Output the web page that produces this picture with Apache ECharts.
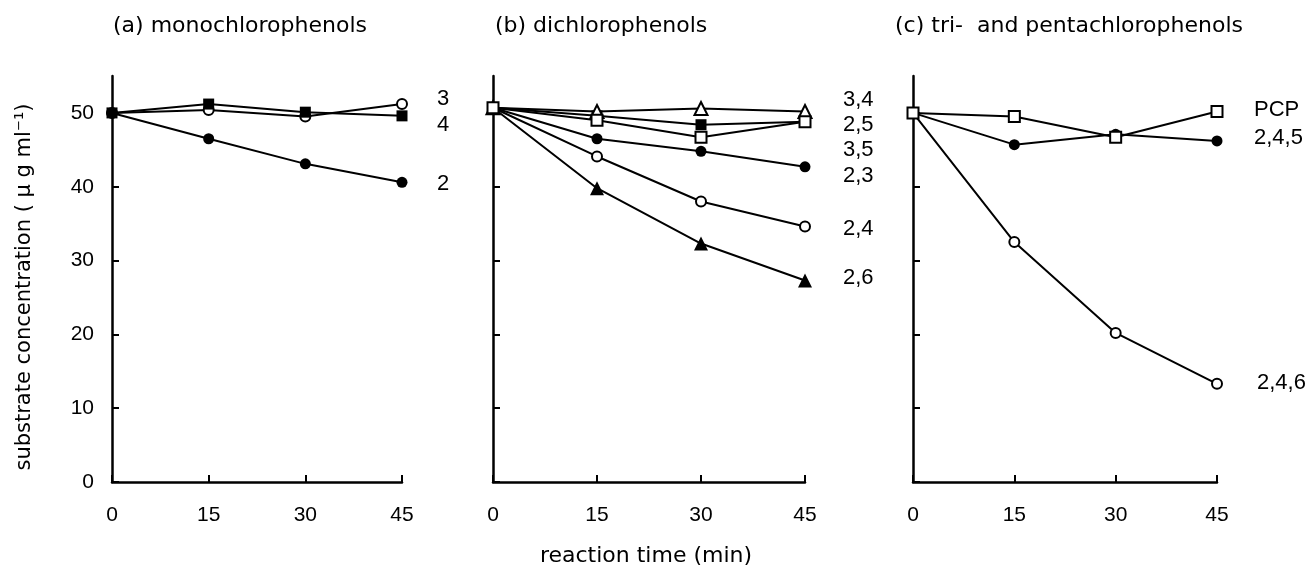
<!DOCTYPE html>
<html>
<head>
<meta charset="utf-8">
<script src="https://cdn.jsdelivr.net/npm/echarts@6/dist/echarts.min.js"></script>
<style>
html,body{margin:0;padding:0;background:#fff;}
#chart{width:1309px;height:573px;}
</style>
</head>
<body>
<div id="chart"></div>
<script>
// ---- data ----
const times = [0, 15, 30, 45];
const yTicks = [0, 10, 20, 30, 40, 50];
const panelTitles = ['(a) monochlorophenols', '(b) dichlorophenols', '(c) tri-  and pentachlorophenols'];
const xTitle = 'reaction time (min)';
const yTitle = 'substrate concentration ( μ g ml⁻¹)';

// panel (a) monochlorophenols
const a_3 = [50.0, 50.4, 49.5, 51.2];   // open circle
const a_4 = [50.0, 51.2, 50.1, 49.6];   // filled square
const a_2 = [50.0, 46.5, 43.1, 40.6];   // filled circle
const a_labels = ['3', '4', '2'];

// panel (b) dichlorophenols
const b_34 = [50.7, 50.2, 50.6, 50.2];  // open triangle
const b_25 = [50.7, 49.6, 48.4, 48.8];  // filled square
const b_35 = [50.7, 49.0, 46.7, 48.8];  // open square
const b_23 = [50.7, 46.5, 44.8, 42.7];  // filled circle
const b_24 = [50.7, 44.1, 38.0, 34.6];  // open circle
const b_26 = [50.7, 39.8, 32.3, 27.3];  // filled triangle
const b_labels = ['3,4', '2,5', '3,5', '2,3', '2,4', '2,6'];

// panel (c) tri- and pentachlorophenols
const c_pcp = [50.0, 49.5, 46.7, 50.2]; // open square
const c_245 = [50.0, 45.7, 47.1, 46.2]; // filled circle
const c_246 = [50.0, 32.5, 20.2, 13.3]; // open circle
const c_labels = ['PCP', '2,4,5', '2,4,6'];

// ---- chart ----
const TFONT = '"DejaVu Sans"';
const NFONT = '"Liberation Sans", Arial';
const pair = arr => times.map((t, i) => [t, arr[i]]);

const grids = [
  {left: 112, top: 76, width: 290, height: 406},
  {left: 493, top: 76, width: 312, height: 406},
  {left: 913, top: 76, width: 304, height: 406}
];

function xAx(i) {
  return {
    gridIndex: i, type: 'value', min: 0, max: 45, interval: 15,
    axisLine: {show: true, lineStyle: {color: '#000', width: 2.5}},
    axisTick: {show: true, inside: true, length: 7, lineStyle: {color: '#000', width: 2}},
    axisLabel: {show: true, color: '#000', fontSize: 21, fontFamily: 'Liberation Sans', margin: 23},
    splitLine: {show: false}
  };
}
function yAx(i, showLabels) {
  return {
    gridIndex: i, type: 'value', min: 0, max: 55,
    axisLine: {show: true, onZero: false, lineStyle: {color: '#000', width: 2.5}},
    axisTick: {show: true, inside: true, length: 7, customValues: yTicks, lineStyle: {color: '#000', width: 2}},
    axisLabel: {show: showLabels, customValues: yTicks, color: '#000', fontSize: 21, fontFamily: 'Liberation Sans', margin: 18},
    splitLine: {show: false}
  };
}

function ser(i, data, symbol, size) {
  const empty = symbol.startsWith('empty');
  return {
    type: 'line', xAxisIndex: i, yAxisIndex: i, data: pair(data),
    symbol: symbol, symbolSize: size, showAllSymbol: true,
    lineStyle: {color: '#000', width: 2},
    itemStyle: {color: '#000', borderColor: '#000', borderWidth: empty ? 1.8 : 0},
    emphasis: {disabled: true}, silent: true
  };
}

const series = [
  ser(0, a_2, 'circle', 11),
  ser(0, a_3, 'emptyCircle', 10),
  ser(0, a_4, 'rect', 11),

  ser(1, b_26, 'triangle', 14),
  ser(1, b_24, 'emptyCircle', 10),
  ser(1, b_23, 'circle', 11),
  ser(1, b_25, 'rect', 11),
  ser(1, b_34, 'emptyTriangle', 13),
  ser(1, b_35, 'emptyRect', 11),

  ser(2, c_246, 'emptyCircle', 10),
  ser(2, c_245, 'circle', 11),
  ser(2, c_pcp, 'emptyRect', 11)
];

function txt(s, x, y, font, align, rotation) {
  const el = {
    type: 'text', x: x, y: y, silent: true,
    style: {text: s, fill: '#000', font: font, textAlign: align || 'left', textVerticalAlign: 'middle'}
  };
  if (rotation !== undefined) el.rotation = rotation;
  return el;
}

const graphics = [];
// panel titles
const titleX = [113, 495, 895];
panelTitles.forEach((t, i) => graphics.push(txt(t, titleX[i], 26, '22px ' + TFONT)));
// axis titles
graphics.push(txt(xTitle, 646, 556, '22px ' + TFONT, 'center'));
graphics.push(txt(yTitle, 25, 287, '21px ' + TFONT, 'center', Math.PI / 2));
// series labels
const LFONT = '22px ' + NFONT;
const aY = [99, 125, 184];
a_labels.forEach((t, i) => graphics.push(txt(t, 437, aY[i], LFONT)));
const bY = [100, 125, 150, 176, 229, 278];
b_labels.forEach((t, i) => graphics.push(txt(t, 843, bY[i], LFONT)));
const cX = [1254, 1254, 1257];
const cY = [110, 138, 383];
c_labels.forEach((t, i) => graphics.push(txt(t, cX[i], cY[i], LFONT)));

const chart = echarts.init(document.getElementById('chart'), null, {renderer: 'canvas'});
chart.setOption({
  backgroundColor: '#fff',
  animation: false,
  grid: grids,
  xAxis: [xAx(0), xAx(1), xAx(2)],
  yAxis: [yAx(0, true), yAx(1, false), yAx(2, false)],
  series: series,
  graphic: graphics
});
</script>
</body>
</html>
